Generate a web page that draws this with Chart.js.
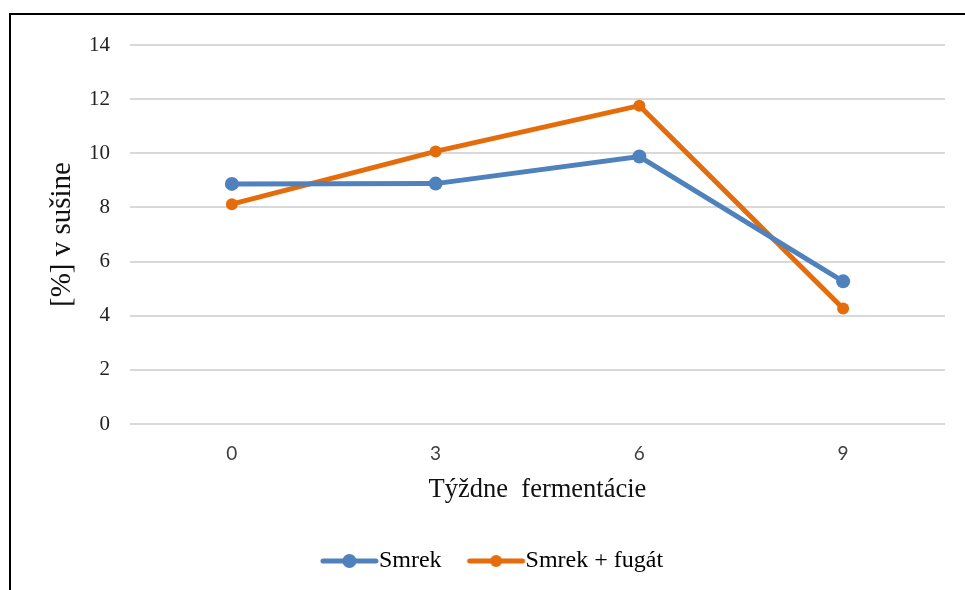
<!DOCTYPE html>
<html>
<head>
<meta charset="utf-8">
<script src="https://cdn.jsdelivr.net/npm/chart.js@4/dist/chart.umd.min.js"></script>
<style>
  html, body { margin: 0; padding: 0; background: #fff; overflow: hidden; }
  #wrap { position: relative; width: 965px; height: 590px; }
  #frame { position: absolute; left: 9px; top: 13px; width: 3000px; height: 3000px;
           border-left: 2px solid #000; border-top: 2px solid #000; pointer-events: none; }
</style>
</head>
<body>
<div id="wrap">
  <canvas id="c" width="965" height="590"></canvas>
  <div id="frame"></div>
</div>
<script>
const categories = ['0', '3', '6', '9'];
const smrek = [8.87, 8.88, 9.88, 5.27];
const smrekFugat = [8.12, 10.07, 11.76, 4.27];
const seriesNames = ['Smrek', 'Smrek + fugát'];
const yTitle = '[%] v sušine';
const xTitle = 'Týždne  fermentácie';

const BLUE = '#4F81BD';
const ORANGE = '#E46C0A';

// legend icon: line with a dot; canvas is centred on the legend box centre (box width 40)
function legendIcon(color, r) {
  const cv = document.createElement('canvas');
  cv.width = 116; cv.height = 16;
  const g = cv.getContext('2d');
  // box start is at canvas x = 58 - 20 = 38; line from box-6 to box+51
  const x0 = 38 - 6, x1 = 38 + 51;
  g.strokeStyle = color; g.lineWidth = 5; g.lineCap = 'round';
  g.beginPath(); g.moveTo(x0 + 2, 8); g.lineTo(x1 - 2, 8); g.stroke();
  g.fillStyle = color; g.beginPath(); g.arc((x0 + x1) / 2, 8, r, 0, Math.PI * 2); g.fill();
  return cv;
}
const icons = [legendIcon(BLUE, 7), legendIcon(ORANGE, 6)];

const SERIF = '"Liberation Serif", "Times New Roman", serif';

const ctx = document.getElementById('c').getContext('2d');
new Chart(ctx, {
  type: 'line',
  data: {
    labels: categories,
    datasets: [
      { label: seriesNames[0], data: smrek, borderColor: BLUE, backgroundColor: BLUE,
        borderWidth: 5, pointRadius: 7, pointBorderWidth: 0, pointBackgroundColor: BLUE, tension: 0 },
      { label: seriesNames[1], data: smrekFugat, borderColor: ORANGE, backgroundColor: ORANGE,
        borderWidth: 5, pointRadius: 6, pointBorderWidth: 0, pointBackgroundColor: ORANGE, tension: 0 }
    ]
  },
  options: {
    responsive: false,
    animation: false,
    layout: { padding: { left: 45, right: 20, top: 45, bottom: 7 } },
    plugins: {
      legend: {
        position: 'bottom',
        labels: {
          usePointStyle: true,
          pointStyleWidth: 40,
          padding: 32,
          color: '#000',
          font: { family: SERIF, size: 24 },
          generateLabels(chart) {
            const items = Chart.defaults.plugins.legend.labels.generateLabels(chart);
            items.forEach((it, i) => { it.pointStyle = icons[i]; });
            return items;
          }
        }
      },
      tooltip: { enabled: false }
    },
    scales: {
      x: {
        offset: true,
        grid: { display: false, drawTicks: false },
        border: { display: false },
        ticks: { color: '#404040', padding: 18,
                 font: { family: 'Lato, "Open Sans", sans-serif', size: 19 } },
        title: { display: true, text: xTitle, color: '#111', padding: { top: 0, bottom: 11 },
                 font: { family: SERIF, size: 26.5 } },
        afterFit(scale) { scale.height = 93; }
      },
      y: {
        min: 0, max: 14,
        grid: { color: '#d9d9d9', lineWidth: 2, drawTicks: false },
        border: { display: false },
        ticks: { stepSize: 2, color: '#222', padding: 20,
                 font: { family: SERIF, size: 21 } },
        title: { display: true, text: yTitle, color: '#111', padding: 0,
                 font: { family: SERIF, size: 29 } },
        afterFit(scale) { scale.width = 85; }
      }
    }
  }
});
</script>
</body>
</html>
